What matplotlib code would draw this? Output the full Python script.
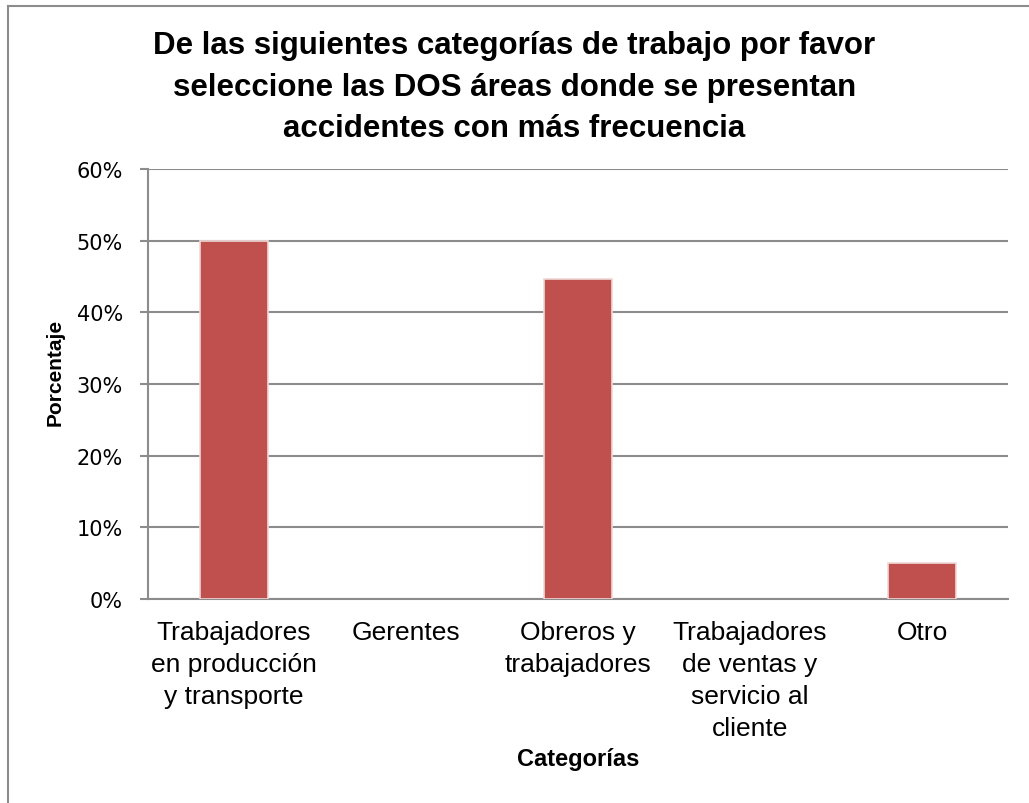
import matplotlib
matplotlib.use("Agg")
import matplotlib.pyplot as plt
from matplotlib.lines import Line2D
from matplotlib.ticker import PercentFormatter

# Chart data
categories = ["Trabajadores\nen producción\ny transporte", "Gerentes",
              "Obreros y\ntrabajadores", "Trabajadores\nde ventas y\nservicio al\ncliente",
              "Otro"]
values = [0.50, 0.0, 0.447, 0.0, 0.05]
yticks = [0, 0.1, 0.2, 0.3, 0.4, 0.5, 0.6]

titleText = ("De las siguientes categorías de trabajo por favor\n"
             "seleccione las DOS áreas donde se presentan\n"
             "accidentes con más frecuencia")

barColor = "#C0504D"
gridColor = "#8c8c8c"

plt.rcParams['font.family'] = ['Liberation Sans', 'DejaVu Sans']

fig = plt.figure(figsize=(10.29, 8.04), dpi=100)
ax = fig.add_axes([0.1438, 0.2537, 0.9796 - 0.1438, 0.7886 - 0.2537])

x = list(range(len(categories)))
edgeWidths = [1.2 if v > 0 else 0 for v in values]
ax.bar(x, values, width=0.4, color=barColor, edgecolor="#f0d8d7",
       linewidth=edgeWidths, zorder=3)

ax.set_xlim(-0.5, len(categories) - 0.5)
ax.set_ylim(0, 0.6)
ax.set_yticks(yticks)
ax.yaxis.set_major_formatter(PercentFormatter(1.0, decimals=0))
ax.set_xticks(x)
ax.set_xticklabels(categories, fontsize=19, linespacing=1.42)

for lbl in ax.get_yticklabels():
    lbl.set_fontfamily('DejaVu Sans')
    lbl.set_fontsize(15)

ax.tick_params(axis='y', length=6, width=1.5, color=gridColor, pad=12)
ax.tick_params(axis='x', length=0, pad=15)

ax.yaxis.grid(True, color=gridColor, linewidth=1.5, zorder=0)
ax.set_axisbelow(True)

for side in ["top", "right"]:
    ax.spines[side].set_visible(False)
for side in ["left", "bottom"]:
    ax.spines[side].set_color(gridColor)
    ax.spines[side].set_linewidth(1.5)

ax.set_ylabel("Porcentaje", fontsize=15, fontweight='bold')
ax.yaxis.set_label_coords(-0.097, 0.53)
ax.set_xlabel("Categorías", fontsize=17, fontweight='bold', labelpad=5)

fig.text(0.5, 0.891, titleText, fontsize=22.5, fontweight='bold',
         ha='center', va='center', linespacing=1.51)

# outer chart border (only left and top edges visible)
fig.add_artist(Line2D([0.0078, 0.0078], [0, 0.9913], transform=fig.transFigure,
                      color="#8c8c8c", linewidth=1.5))
fig.add_artist(Line2D([0.0078, 1.0], [0.9913, 0.9913], transform=fig.transFigure,
                      color="#8c8c8c", linewidth=1.5))

fig.savefig("out.png", dpi=100)
